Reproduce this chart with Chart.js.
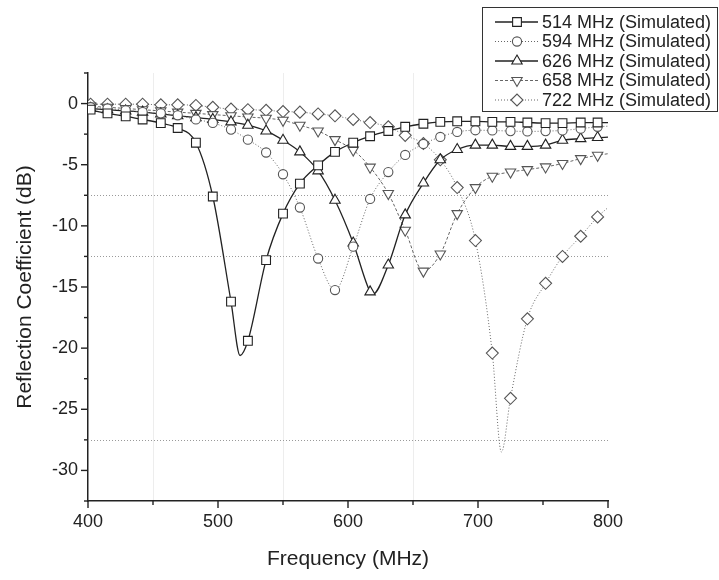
<!DOCTYPE html>
<html>
<head>
<meta charset="utf-8">
<title>Reflection Coefficient</title>
<script src="https://cdn.jsdelivr.net/npm/chart.js@4.4.1/dist/chart.umd.min.js"></script>
<style>
  html, body { margin: 0; padding: 0; background: #fff; }
  #wrap { width: 719px; height: 580px; position: relative; }
</style>
</head>
<body>
<div id="wrap"><canvas id="reflChart"></canvas></div>
<script>
// frequencies (MHz) where the markers sit, shared by all five curves
const markerFreqs = [402, 415, 429, 442, 456, 469, 483, 496, 510, 523, 537, 550, 563, 577, 590,
                     604, 617, 631, 644, 658, 671, 684, 698, 711, 725, 738, 752, 765, 779, 792];

// reflection coefficient (dB) at each marker
const s514 = [-0.5, -0.8, -1.05, -1.3, -1.6, -2.0, -3.2, -7.6, -16.2, -19.4, -12.8, -9.0, -6.55, -5.05, -3.95,
              -3.2, -2.67, -2.24, -1.9, -1.65, -1.5, -1.45, -1.45, -1.5, -1.5, -1.55, -1.6, -1.6, -1.55, -1.55];
const s594 = [-0.3, -0.4, -0.55, -0.7, -0.8, -0.96, -1.3, -1.58, -2.13, -2.95, -4.0, -5.78, -8.5, -12.67, -15.25,
              -11.7, -7.8, -5.6, -4.2, -3.3, -2.73, -2.32, -2.18, -2.2, -2.25, -2.28, -2.25, -2.2, -2.05, -1.9];
const s626 = [-0.4, -0.5, -0.6, -0.7, -0.85, -1.0, -1.15, -1.3, -1.5, -1.77, -2.24, -3.0, -3.95, -5.5, -7.9,
              -11.4, -15.4, -13.2, -9.1, -6.5, -4.6, -3.76, -3.4, -3.4, -3.5, -3.5, -3.4, -3.0, -2.87, -2.78];
const s658 = [-0.2, -0.3, -0.4, -0.5, -0.6, -0.7, -0.8, -0.9, -1.0, -1.1, -1.2, -1.37, -1.77, -2.24, -2.95,
              -3.8, -5.2, -7.36, -10.36, -13.7, -12.3, -9.0, -6.87, -5.94, -5.6, -5.4, -5.18, -4.9, -4.5, -4.23];
const s722 = [-0.05, -0.05, -0.05, -0.05, -0.1, -0.1, -0.15, -0.3, -0.45, -0.5, -0.55, -0.65, -0.7, -0.85, -1.0,
              -1.3, -1.55, -1.9, -2.6, -3.27, -4.6, -6.87, -11.2, -20.4, -24.1, -17.6, -14.7, -12.5, -10.85, -9.27];

// extra points on the simulated curves that carry no marker [MHz, dB]
const c514 = [[400, -0.4], [517, -20.6], [800, -1.55]];
const c594 = [[400, -0.25], [800, -1.85]];
const c626 = [[400, -0.35], [619, -15.6], [800, -2.75]];
const c658 = [[400, -0.15], [800, -4.1]];
const c722 = [[400, 0.0], [718, -28.5], [800, -8.5]];

const seriesLabels = ['514 MHz (Simulated)', '594 MHz (Simulated)', '626 MHz (Simulated)',
                      '658 MHz (Simulated)', '722 MHz (Simulated)'];

// axis ticks
const xMajorTicks = [400, 500, 600, 700, 800];
const xMinorTicks = [450, 550, 650, 750];
const yMajorTicks = [0, -5, -10, -15, -20, -25, -30];
const yMinorTicks = [2.5, -2.5, -7.5, -12.5, -17.5, -22.5, -27.5, -32.5];

// faint reference lines seen in the scan
const hRefLines = [-7.5, -12.5, -27.5];
const vRefLines = [450, 550, 650];

const FONT = '"Liberation Sans", Arial, Helvetica, sans-serif';
const INK = '#222';

function buildPoints(values, extra) {
    const pts = markerFreqs.map((f, i) => ({ x: f, y: values[i], m: true }));
    extra.forEach(p => pts.push({ x: p[0], y: p[1], m: false }));
    pts.sort((a, b) => a.x - b.x);
    return pts;
}

function makeSeries(label, values, extra, style) {
    return {
        label: label,
        data: buildPoints(values, extra),
        borderColor: style.line,
        borderWidth: style.width,
        borderDash: style.dash,
        pointStyle: style.point,
        rotation: style.rotation || 0,
        pointRadius: ctx => (ctx.raw && ctx.raw.m ? style.radius : 0),
        pointBackgroundColor: '#fff',
        pointBorderColor: style.mark,
        pointBorderWidth: 1.1,
        cubicInterpolationMode: 'monotone',
        fill: false,
        _legendRadius: style.radius
    };
}

const datasets = [
    makeSeries(seriesLabels[0], s514, c514, { line: INK, mark: INK, width: 1.3, dash: [], point: 'rect', radius: 6.2 }),
    makeSeries(seriesLabels[1], s594, c594, { line: '#666', mark: '#555', width: 1, dash: [1, 2], point: 'circle', radius: 4.6 }),
    makeSeries(seriesLabels[2], s626, c626, { line: INK, mark: INK, width: 1.3, dash: [], point: 'triangle', radius: 6 }),
    makeSeries(seriesLabels[3], s658, c658, { line: '#666', mark: '#555', width: 1, dash: [3, 2], point: 'triangle', rotation: 180, radius: 6 }),
    makeSeries(seriesLabels[4], s722, c722, { line: '#666', mark: '#555', width: 1, dash: [1, 2], point: 'rectRot', radius: 6 })
];

// dotted/faint reference lines behind the curves
const refLinesPlugin = {
    id: 'refLines',
    beforeDatasetsDraw(chart) {
        const { ctx, chartArea: a, scales: { x, y } } = chart;
        ctx.save();
        ctx.lineWidth = 1;
        ctx.strokeStyle = 'rgba(0,0,0,0.07)';
        vRefLines.forEach(v => {
            const px = Math.round(x.getPixelForValue(v)) + 0.5;
            ctx.beginPath();
            ctx.moveTo(px, a.top);
            ctx.lineTo(px, a.bottom);
            ctx.stroke();
        });
        ctx.strokeStyle = '#9a9a9a';
        ctx.setLineDash([1, 2]);
        hRefLines.forEach(v => {
            const py = Math.round(y.getPixelForValue(v)) + 0.5;
            ctx.beginPath();
            ctx.moveTo(a.left, py);
            ctx.lineTo(a.right, py);
            ctx.stroke();
        });
        ctx.restore();
    }
};

// outward major/minor tick marks
const axisTicksPlugin = {
    id: 'axisTicks',
    afterDraw(chart) {
        const { ctx, chartArea: a, scales: { x, y } } = chart;
        ctx.save();
        ctx.strokeStyle = INK;
        ctx.lineWidth = 1.4;
        const xTick = (v, len) => {
            const px = x.getPixelForValue(v);
            ctx.beginPath();
            ctx.moveTo(px, a.bottom);
            ctx.lineTo(px, a.bottom + len);
            ctx.stroke();
        };
        const yTick = (v, len) => {
            const py = y.getPixelForValue(v);
            ctx.beginPath();
            ctx.moveTo(a.left, py);
            ctx.lineTo(a.left - len, py);
            ctx.stroke();
        };
        xMajorTicks.forEach(v => xTick(v, 7));
        xMinorTicks.forEach(v => xTick(v, 4));
        yMajorTicks.forEach(v => yTick(v, 7));
        yMinorTicks.forEach(v => yTick(v, 4));
        ctx.restore();
    }
};

// boxed legend in the top right corner, overlapping the plot
const boxLegendPlugin = {
    id: 'boxLegend',
    afterDraw(chart) {
        const ctx = chart.ctx;
        const left = 482, top = 7, width = 235, height = 104, rowH = 19.5;
        ctx.save();
        ctx.fillStyle = '#fff';
        ctx.fillRect(left, top, width, height);
        ctx.strokeStyle = '#333';
        ctx.lineWidth = 1;
        ctx.strokeRect(left + 0.5, top + 0.5, width, height);
        chart.data.datasets.forEach((ds, i) => {
            const cy = top + 15 + i * rowH;
            ctx.save();
            ctx.strokeStyle = ds.borderColor;
            ctx.lineWidth = ds.borderWidth;
            ctx.setLineDash(ds.borderDash);
            ctx.beginPath();
            ctx.moveTo(495, cy);
            ctx.lineTo(538, cy);
            ctx.stroke();
            ctx.restore();
            ctx.save();
            ctx.fillStyle = '#fff';
            ctx.strokeStyle = ds.pointBorderColor;
            ctx.lineWidth = 1.1;
            Chart.helpers.drawPoint(ctx, {
                pointStyle: ds.pointStyle,
                rotation: ds.rotation,
                radius: ds._legendRadius,
                borderWidth: 1.1
            }, 517, cy);
            ctx.restore();
            ctx.fillStyle = INK;
            ctx.font = '18px ' + FONT;
            ctx.textBaseline = 'middle';
            ctx.textAlign = 'left';
            ctx.fillText(ds.label, 542, cy + 1);
        });
        ctx.restore();
    }
};

new Chart(document.getElementById('reflChart'), {
    type: 'line',
    data: { datasets: datasets },
    options: {
        responsive: true,
        maintainAspectRatio: false,
        animation: false,
        events: [],
        layout: { padding: { top: 73, right: 111, left: 0, bottom: 0 } },
        plugins: {
            legend: { display: false },
            tooltip: { enabled: false }
        },
        scales: {
            x: {
                type: 'linear',
                min: 400,
                max: 800,
                ticks: {
                    stepSize: 50,
                    autoSkip: false,
                    maxRotation: 0,
                    padding: 2,
                    color: INK,
                    font: { family: FONT, size: 18 },
                    callback: v => (v % 100 === 0 ? v : '')
                },
                grid: { display: true, drawOnChartArea: false, drawTicks: true, tickLength: 8, tickColor: 'rgba(0,0,0,0)' },
                border: { display: true, color: INK, width: 1.5 },
                title: {
                    display: true,
                    text: 'Frequency (MHz)',
                    color: INK,
                    font: { family: FONT, size: 21 },
                    padding: { top: 4, bottom: 8 }
                },
                afterFit: scale => { scale.height = 79; }
            },
            y: {
                type: 'linear',
                min: -32.5,
                max: 2.5,
                ticks: {
                    stepSize: 2.5,
                    autoSkip: false,
                    padding: 2,
                    color: INK,
                    font: { family: FONT, size: 18 },
                    callback: v => (v % 5 === 0 ? v : '')
                },
                grid: { display: true, drawOnChartArea: false, drawTicks: true, tickLength: 8, tickColor: 'rgba(0,0,0,0)' },
                border: { display: true, color: INK, width: 1.5 },
                title: {
                    display: true,
                    text: 'Reflection Coefficient (dB)',
                    color: INK,
                    font: { family: FONT, size: 21 },
                    padding: { top: 13, bottom: 4 }
                },
                afterFit: scale => { scale.width = 88; }
            }
        }
    },
    plugins: [refLinesPlugin, axisTicksPlugin, boxLegendPlugin]
});
</script>
</body>
</html>
